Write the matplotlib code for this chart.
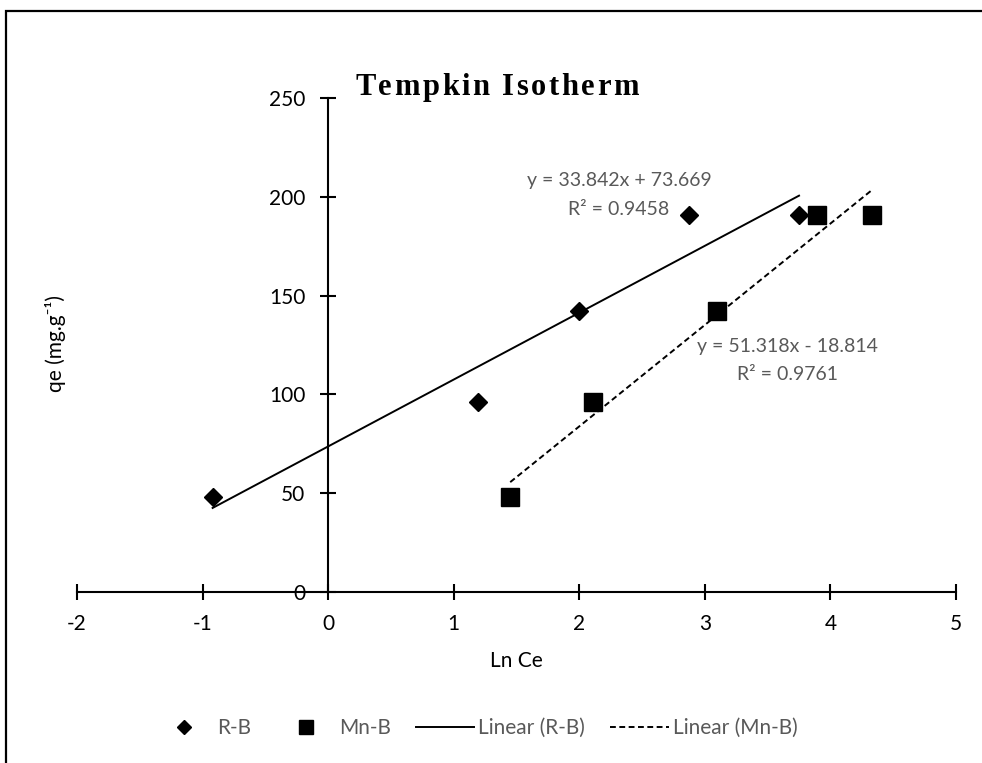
import matplotlib
matplotlib.use("Agg")
import matplotlib.pyplot as plt
from matplotlib.patches import Rectangle
from matplotlib.lines import Line2D
from matplotlib.font_manager import FontProperties, findfont, get_font
import numpy as np

plt.rcParams['font.family'] = ['Lato', 'DejaVu Sans']
plt.rcParams['axes.unicode_minus'] = False

# Tempkin isotherm data: ln Ce vs qe
ln_ce_rb = [-0.92, 1.19, 2.00, 2.87, 3.75]
qe_rb = [48, 96, 142, 191, 191]
ln_ce_mnb = [1.45, 2.11, 3.10, 3.89, 4.33]
qe_mnb = [48, 96, 142, 191, 191]

# trend line coefficients (slope, intercept, R2)
fit_rb = (33.842, 73.669, 0.9458)
fit_mnb = (51.318, -18.814, 0.9761)

xticks = [-2, -1, 0, 1, 2, 3, 4, 5]
yticks = [0, 50, 100, 150, 200, 250]

W, H = 982, 763
fig = plt.figure(figsize=(W / 100, H / 100), dpi=100)
ax = fig.add_axes([77 / W, 1 - 592 / H, (956 - 77) / W, (592 - 98) / H])

ax.plot(ln_ce_rb, qe_rb, 'D', color='black', markersize=8.8, zorder=3)
ax.plot(ln_ce_mnb, qe_mnb, 's', color='black', markersize=12.5, zorder=3)

xs = np.array([min(ln_ce_rb), max(ln_ce_rb)])
ax.plot(xs, fit_rb[0] * xs + fit_rb[1], color='black', lw=1.4)
xs2 = np.array([min(ln_ce_mnb), max(ln_ce_mnb)])
ax.plot(xs2, fit_mnb[0] * xs2 + fit_mnb[1], color='black', lw=1.4,
        linestyle=(0, (3, 1.8)))

gray = '#595959'
ax.text(2.317, 208, f"y = {fit_rb[0]:.3f}x + {fit_rb[1]:.3f}", ha='center', va='center',
        fontsize=14, color=gray)
ax.text(2.317, 193.5, f"R² = {fit_rb[2]:.4f}", ha='center', va='center',
        fontsize=14, color=gray)
ax.text(3.655, 124, f"y = {fit_mnb[0]:.3f}x - {abs(fit_mnb[1]):.3f}", ha='center', va='center',
        fontsize=14, color=gray)
ax.text(3.655, 110, f"R² = {fit_mnb[2]:.4f}", ha='center', va='center',
        fontsize=14, color=gray)

ax.set_xlim(-2, 5)
ax.set_ylim(0, 250)
ax.set_xticks(xticks)
ax.set_yticks(yticks)
ax.spines['left'].set_position(('data', 0))
ax.spines['bottom'].set_position(('data', 0))
ax.spines['top'].set_visible(False)
ax.spines['right'].set_visible(False)
for s in ('left', 'bottom'):
    ax.spines[s].set_linewidth(1.5)
ax.tick_params(direction='inout', length=11, width=1.5, labelsize=15, colors='black')
ax.tick_params(axis='x', pad=10)
ax.tick_params(axis='y', pad=11)

fig.text(516 / W, 1 - 661 / H, "Ln Ce", ha='center', va='center', fontsize=15)
fig.text(55 / W, 1 - 344 / H, "qe (mg.g⁻¹)", rotation=90, ha='center', va='center',
         fontsize=15)

# spaced-out serif title, placed one letter at a time using glyph advances
title = "Tempkin Isotherm"
tprop = FontProperties(family='Liberation Serif', weight='bold', size=22)
ft = get_font(findfont(tprop))
ft.set_size(22, 72)
advances = [ft.load_char(ord(c)).linearHoriAdvance / 65536 for c in title]
gap = 1.8
total = (sum(advances) + gap * (len(title) - 1)) * 100 / 72
x = 497 - total / 2
for c, adv in zip(title, advances):
    fig.text(x / W, 1 - 95 / H, c, ha='left', va='baseline', fontproperties=tprop)
    x += (adv + gap) * 100 / 72

handles = [
    Line2D([], [], marker='D', ls='none', color='black', markersize=7.5),
    Line2D([], [], marker='s', ls='none', color='black', markersize=10),
    Line2D([], [], color='black', lw=1.4),
    Line2D([], [], color='black', lw=1.4, linestyle=(0, (3, 1.8))),
]
labels = ['R-B', 'Mn-B', 'Linear (R-B)', 'Linear (Mn-B)']
fig.legend(handles, labels, loc='center', bbox_to_anchor=(0.485, 1 - 728 / H), ncol=4,
           frameon=False, fontsize=15, labelcolor=gray, handlelength=2.8,
           columnspacing=1.2, handletextpad=0.2)

# outer chart border
fig.patches.append(Rectangle((6 / W, -0.1), 1.2, 1.1 - 11 / H, transform=fig.transFigure,
                             fill=False, edgecolor='black', lw=1.6, clip_on=False))

fig.savefig('out.png', dpi=100)
